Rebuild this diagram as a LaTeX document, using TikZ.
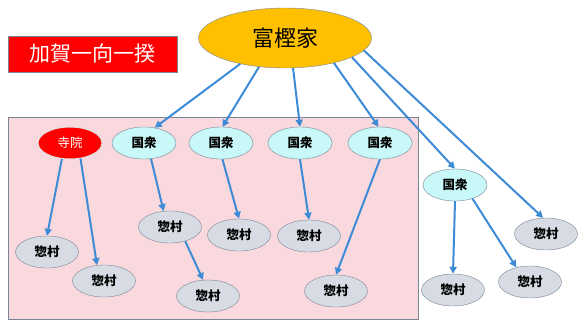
\documentclass[tikz,border=0pt]{standalone}
\usepackage{fontspec}
\newfontfamily\jp{Noto Sans CJK JP}
\usetikzlibrary{arrows.meta,shapes.geometric}
\definecolor{Flow}{HTML}{3D8BD6}
\definecolor{Edge}{HTML}{7A8696}
\definecolor{Gold}{HTML}{FFC000}
\definecolor{Blush}{HTML}{FAD9DE}
\definecolor{Aqua}{HTML}{C8F8F8}
\definecolor{Mist}{HTML}{D7DCE4}
\tikzset{
  arr/.style={-{Triangle[length=7pt,width=7pt]},line width=2pt,draw=Flow},
  areabox/.style={draw=Edge,fill=Blush,line width=1pt},
  titlebox/.style={draw=Edge,fill=red,text=white,font=\jp\fontsize{21}{24}\selectfont,minimum width=169pt,minimum height=36pt,inner sep=0pt},
  housebox/.style={ellipse,draw=Edge,fill=Gold,font=\jp\fontsize{22}{26}\selectfont,minimum width=173pt,minimum height=60pt,inner sep=0pt},
  templebox/.style={ellipse,draw=white!75!gray,fill=red,text=white,line width=1pt,font=\jp\fontsize{12.5}{14}\selectfont,minimum width=64pt,minimum height=32pt,inner sep=0pt},
  lordbox/.style={ellipse,draw=Edge,fill=Aqua,font=\jp\bfseries\fontsize{12.5}{14}\selectfont,minimum width=64pt,minimum height=32pt,inner sep=0pt},
  villbox/.style={ellipse,draw=Edge,fill=Mist,font=\jp\bfseries\fontsize{12.5}{14}\selectfont,minimum width=63pt,minimum height=32pt,inner sep=0pt}
}
\begin{document}
\begin{tikzpicture}[x=1pt,y=-1pt]
  \useasboundingbox (0,0) rectangle (586,330);
  \draw[areabox] (8,117) rectangle (418,319);
  \node[titlebox] (title) at (92.5,54) {加賀一向一揆};
  \node[housebox] (top) at (285,38) {富樫家};
  % temple and local lords
  \node[templebox] (t) at (70,143) {寺院};
  \node[lordbox] (k1) at (144,143) {国衆};
  \node[lordbox] (k2) at (221,143) {国衆};
  \node[lordbox] (k3) at (300,143) {国衆};
  \node[lordbox] (k4) at (380,143) {国衆};
  \node[lordbox] (k5) at (455,185) {国衆};
  % villages
  \node[villbox] (va) at (47,252) {惣村};
  \node[villbox] (vb) at (104,281) {惣村};
  \node[villbox] (vc) at (170,227) {惣村};
  \node[villbox] (vd) at (208,296) {惣村};
  \node[villbox] (ve) at (239,235) {惣村};
  \node[villbox] (vf) at (309,236) {惣村};
  \node[villbox] (vg) at (336,291) {惣村};
  \node[villbox] (vh) at (453,290) {惣村};
  \node[villbox] (vi) at (530,282) {惣村};
  \node[villbox] (vj) at (546,234) {惣村};
  % arrows from the house
  \draw[arr] (top.210) -- (k1.55);
  \draw[arr] (top.228) -- (k2.85);
  \draw[arr] (top.285) -- (k3.north);
  \draw[arr] (top.333) -- (k4.95);
  \draw[arr] (top.344) -- (k5.north);
  \draw[arr] (top.351) -- (vj.100);
  % arrows down to the villages
  \draw[arr] (t.243) -- (va.north);
  \draw[arr] (t.304) -- (vb.114);
  \draw[arr] (k1.294) -- (vc.112);
  \draw[arr] (vc.317) -- (vd.107);
  \draw[arr] (k2.275) -- (ve.north);
  \draw[arr] (k3.south) -- (vf.north);
  \draw[arr] (k4.south) -- (vg.north);
  \draw[arr] (k5.south) -- (vh.north);
  \draw[arr] (k5.322) -- (vi.133);
\end{tikzpicture}
\end{document}
